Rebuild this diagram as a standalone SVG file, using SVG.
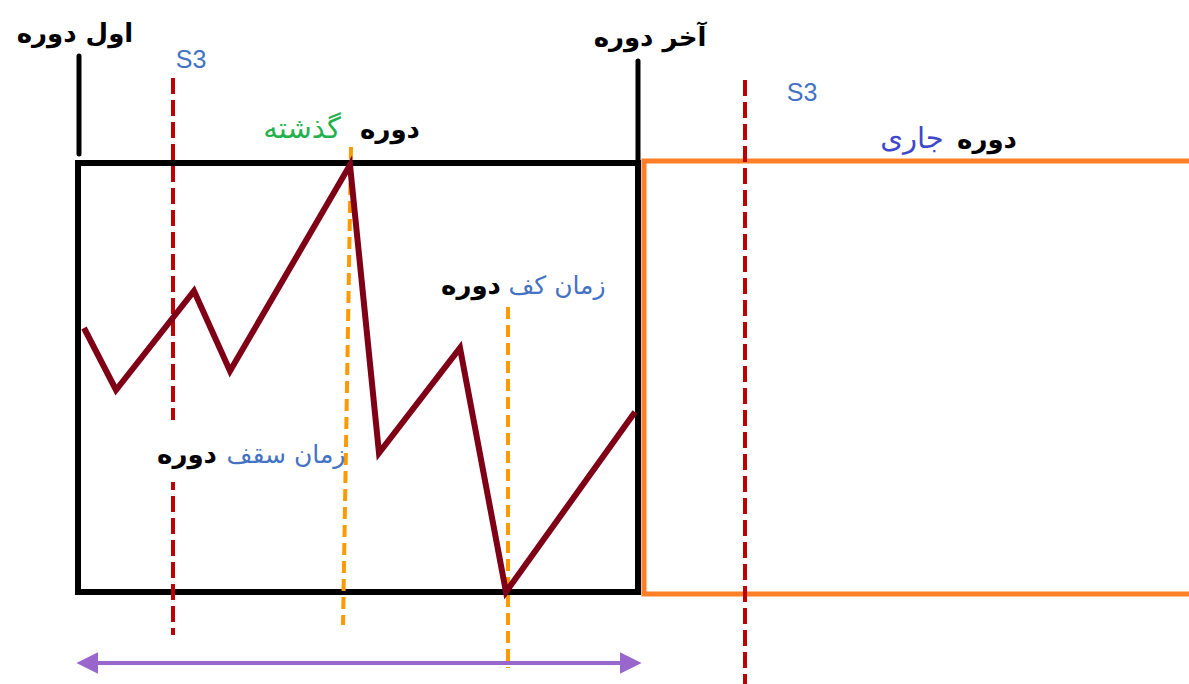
<svg xmlns="http://www.w3.org/2000/svg" width="1189" height="684" viewBox="0 0 1189 684">
<style>
.bk{font-family:"DejaVu Sans",sans-serif;font-weight:bold;font-size:26px;fill:#000;text-anchor:middle}
.bl{font-family:"DejaVu Sans",sans-serif;font-size:25px;fill:#4472C4;text-anchor:middle}
.gr{font-family:"DejaVu Sans",sans-serif;font-size:29px;text-anchor:middle}
.s3{font-family:"Liberation Sans",sans-serif;font-size:25px;fill:#4472C4;text-anchor:middle}
.red{stroke:#C00000;stroke-width:4;stroke-dasharray:16 6;fill:none}
.shd{stroke:#888;stroke-width:4;stroke-dasharray:16 6;fill:none;opacity:0.7;filter:url(#blur)}
.org{stroke:#FF9900;stroke-width:4;stroke-dasharray:12 6;fill:none}
</style>
<defs>
<filter id="blur" x="-2" y="0" width="5" height="1"><feGaussianBlur stdDeviation="1.5"/></filter>
<marker id="ah" viewBox="0 0 10 10" refX="2" refY="5" markerWidth="5.5" markerHeight="5.5" orient="auto-start-reverse" markerUnits="strokeWidth">
<path d="M0,0 L10,5 L0,10 z" fill="#9966CC"/>
</marker>
</defs>
<rect width="1189" height="684" fill="#fff"/>
<g id="current-period">
<path d="M1189,161 L644,161 L644,594 L1189,594" fill="none" stroke="#FF7F27" stroke-width="5"/>
</g>
<g id="past-period">
<rect x="78" y="163" width="560" height="429" fill="none" stroke="#000" stroke-width="6"/>
<line x1="79" y1="56" x2="79" y2="154" stroke="#000" stroke-width="5" stroke-linecap="round"/>
<line x1="638" y1="61" x2="638" y2="162" stroke="#000" stroke-width="5" stroke-linecap="round"/>
</g>
<g id="guides">
<line class="shd" x1="178" y1="80" x2="178" y2="637"/>
<line class="red" x1="173" y1="78" x2="173" y2="635"/>
<line class="shd" x1="750" y1="82" x2="750" y2="684"/>
<line class="red" x1="745" y1="80" x2="745" y2="684"/>
<line class="org" x1="351" y1="147" x2="343" y2="625"/>
<line class="org" x1="508" y1="307" x2="508" y2="668"/>
</g>
<g id="price">
<polyline points="84,328 116,390 194,291 230,371 350,165 379,453 460,348 506,592 635,412" fill="none" stroke="#7F0016" stroke-width="6" stroke-linejoin="miter"/>
</g>
<g id="connectors">
<line x1="94" y1="663" x2="624" y2="663" stroke="#9966CC" stroke-width="4" marker-start="url(#ah)" marker-end="url(#ah)"/>
</g>
<g id="labels">
<text class="bk" x="75" y="42">اول دوره</text>
<text class="bk" x="650" y="46">آخر دوره</text>
<text class="s3" x="191" y="68">S3</text>
<text class="s3" x="802" y="101">S3</text>
<text class="bk" x="390" y="138">دوره</text>
<text class="gr" x="302" y="138" fill="#22B14C">گذشته</text>
<text class="bk" x="987" y="148">دوره</text>
<text class="gr" x="912" y="148" fill="#3F48CC">جاری</text>
<text class="bk" x="471" y="294">دوره</text>
<text class="bl" x="557" y="294">زمان کف</text>
</g>
<g id="ceiling-label">
<rect x="150" y="420" width="190" height="62" fill="#fff"/>
<text class="bk" x="187" y="463">دوره</text>
<text class="bl" x="286" y="463">زمان سقف</text>
</g>
</svg>
